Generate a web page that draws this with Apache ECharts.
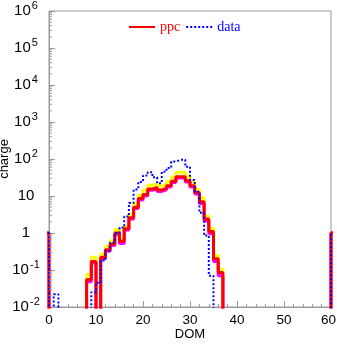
<!DOCTYPE html>
<html><head><meta charset="utf-8">
<script src="https://cdn.jsdelivr.net/npm/echarts@6/dist/echarts.min.js"></script>
<style>html,body{margin:0;padding:0;background:#fff}#c{width:337px;height:344px}</style>
</head><body><div id="c"></div>
<script>
// DOM bin left edges (each bin spans [dom, dom+1])
const domBins = [-1,0,1,2,3,4,5,6,7,8,9,10,11,12,13,14,15,16,17,18,19,20,21,22,23,24,25,26,27,28,29,30,31,32,33,34,35,36,37,60];
// ppc prediction (red)
const ppc =      [1,0,0,0,0,0,0,0,0,0.055,0.17,0,0.22,0.35,0.5,1.0,0.6,1.3,2.6,5.0,8.5,11,15.5,17,14.5,16,19,25,33,33,26,19,12.5,7,2.4,1.1,0.2,0.085,0,1];
// ppc upper band (yellow)
const ppcUpper = [1,0,0,0,0,0,0,0,0,0.075,0.22,0,0.27,0.43,0.62,1.25,0.7,1.55,3.2,6.3,10.5,14.5,19.5,21.5,18.5,20.5,24.5,32,44,44,34,24,15,8.8,2.9,1.35,0.25,0.105,0,1];
// ppc lower band (magenta)
const ppcLower = [1,0,0,0,0,0,0,0,0,0.048,0.155,0,0.2,0.32,0.46,0.92,0.52,1.2,2.4,4.6,7.8,10,14.3,15.7,13.3,14.7,17.5,23,30.5,30.5,24,17.5,11.3,6.3,2.1,0.95,0.17,0.07,0,1];
// measured data (blue dotted)
const data =     [1,0,0.022,0,0,0,0,0,0,0,0.025,0.045,0.18,0.33,0.55,1.0,1.4,2.8,6.5,15,24,36,44,32,22,45,57,85,95,95,62,27,13,3.5,0.85,0.07,0,0,0,1];
const xTicks = [0,10,20,30,40,50,60];
const yMin = 1e-2, yMax = 1e6;

const FLOOR = 1e-4;
function steps(vals){
  const pts = [];
  for (let i = 0; i < domBins.length; i++){
    const x = domBins[i];
    const v = vals[i] > 0 ? vals[i] : FLOOR;
    pts.push([x, v], [x + 1, v]);
    if (i + 1 < domBins.length && domBins[i + 1] !== x + 1){
      pts.push([x + 1, FLOOR], [domBins[i + 1], FLOOR]);
    }
  }
  return pts;
}
const minorVals = [];
for (let k = Math.log10(yMin); k < Math.log10(yMax); k++){
  for (let m = 2; m <= 9; m++) minorVals.push([0, m * Math.pow(10, k)]);
}
const axisGray = '#9a9a9a';
const sans = 'Liberation Sans, Arial, sans-serif';
const chart = echarts.init(document.getElementById('c'));
chart.setOption({
  animation: false,
  backgroundColor: '#fff',
  grid: {left: 49, right: 6, top: 11, bottom: 37, containLabel: false, outerBoundsMode: 'none',
         show: true, borderColor: axisGray, borderWidth: 1, backgroundColor: 'transparent'},
  legend: {
    left: 123, top: 15, itemWidth: 26, itemHeight: 14, itemGap: 5,
    itemStyle: {opacity: 0},
    textStyle: {fontFamily: 'Liberation Serif, Times New Roman, serif', fontSize: 14},
    data: [{name: 'ppc', textStyle: {color: '#ff0000'}}, {name: 'data', textStyle: {color: '#0000ff'}}]
  },
  xAxis: {
    type: 'value', min: xTicks[0], max: xTicks[xTicks.length - 1], interval: 10,
    name: 'DOM', nameLocation: 'middle', nameGap: 21, nameMoveOverlap: false,
    nameTextStyle: {fontFamily: sans, fontSize: 13, color: '#000'},
    axisLine: {lineStyle: {color: axisGray}},
    axisTick: {inside: true, length: 6, lineStyle: {color: axisGray}},
    minorTick: {show: true, splitNumber: 5, length: 3, lineStyle: {color: axisGray}},
    axisLabel: {
      fontFamily: sans, fontSize: 13.5, color: '#000', margin: 6,
      formatter: function(v){
        return v === xTicks[xTicks.length - 1] ? '{r|' + v + '}' : String(v);
      },
      rich: {r: {fontFamily: sans, fontSize: 13.5, color: '#000', padding: [0, 5, 0, 0]}}
    },
    splitLine: {show: false}
  },
  yAxis: {
    type: 'log', logBase: 10, min: yMin, max: yMax, splitNumber: 8,
    name: 'charge', nameLocation: 'middle', nameGap: 38, nameMoveOverlap: false,
    nameTextStyle: {fontFamily: sans, fontSize: 13, color: '#000'},
    axisLine: {lineStyle: {color: axisGray}},
    axisTick: {inside: true, length: 6, lineStyle: {color: axisGray}},
    axisLabel: {
      margin: 23, align: 'center', color: '#000',
      formatter: function(v){
        const e = Math.round(Math.log10(v));
        if (e === 0) return '{b|1}';
        if (e === 1) return '{b|10}';
        return '{b|10}{s| }{e|' + e + '}';
      },
      rich: {
        b: {fontFamily: sans, fontSize: 15, color: '#000'},
        s: {fontFamily: sans, fontSize: 4},
        e: {fontFamily: sans, fontSize: 11, color: '#000', padding: [0,0,11,0]}
      }
    },
    splitLine: {show: false}
  },
  series: [
    {name: 'upper', type: 'line', data: steps(ppcUpper), symbol: 'none', lineStyle: {color: '#ffff00', width: 3}, itemStyle: {color: '#ffff00'}, z: 2, clip: true},
    {name: 'lower', type: 'line', data: steps(ppcLower), symbol: 'none', lineStyle: {color: '#ff00ff', width: 3}, itemStyle: {color: '#ff00ff'}, z: 3, clip: true},
    {name: 'ppc', type: 'line', data: steps(ppc), symbol: 'none', lineStyle: {color: '#ff0000', width: 3}, itemStyle: {color: '#ff0000'}, z: 4, clip: true},
    {name: 'data', type: 'line', data: steps(data), symbol: 'none', lineStyle: {color: '#0000ff', width: 2, type: [2, 2]}, itemStyle: {color: '#0000ff'}, z: 5, clip: true},
    {name: 'minor', type: 'custom', silent: true, z: 6, data: minorVals,
      renderItem: function(params, api){
        const p = api.coord([api.value(0), api.value(1)]);
        return {type: 'line', shape: {x1: p[0], y1: p[1], x2: p[0] + 3, y2: p[1]}, style: {stroke: axisGray, lineWidth: 1}};
      }
    }
  ]
});
</script></body></html>
